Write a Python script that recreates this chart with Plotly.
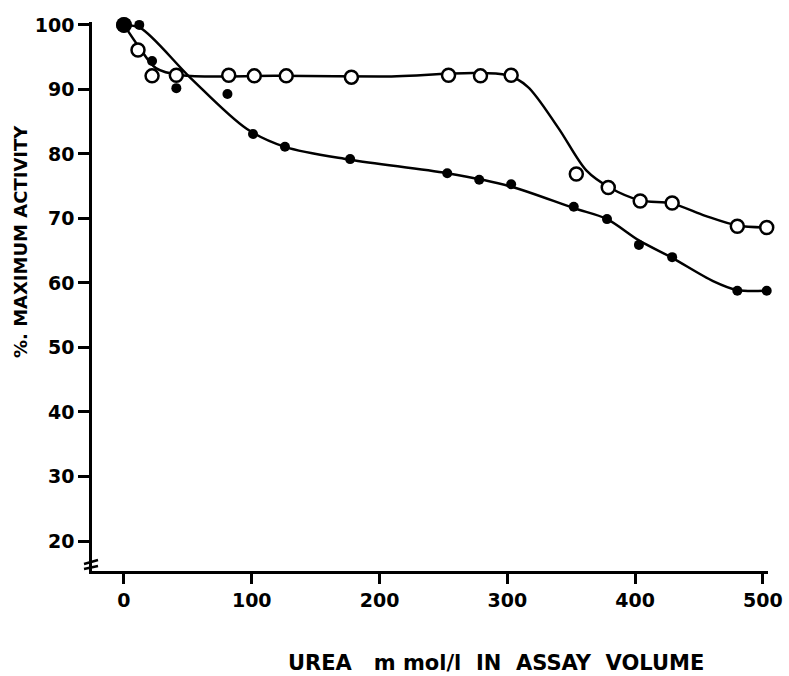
import plotly.graph_objects as go

# Measured points (urea mmol/l, % maximum activity)
filled_x = [0, 12, 22, 41, 81, 101, 126, 177, 253, 278, 303, 352, 378, 403, 429, 480, 503]
filled_y = [100, 100, 94.4, 90.2, 89.3, 83.1, 81.1, 79.2, 77.0, 76.0, 75.3, 71.8, 69.9, 65.9, 64.0, 58.8, 58.8]

open_x = [0, 11, 22, 41, 82, 102, 127, 178, 254, 279, 303, 354, 379, 404, 429, 480, 503]
open_y = [100, 96.1, 92.1, 92.2, 92.2, 92.1, 92.1, 91.9, 92.2, 92.1, 92.2, 76.9, 74.8, 72.7, 72.4, 68.8, 68.6]

# Hand-drawn fitted curves
filled_curve_x = [0, 13, 52, 96, 126, 177, 253, 302, 352, 378, 403, 429, 461, 480, 503]
filled_curve_y = [100, 99.5, 91.8, 83.9, 81.1, 79.1, 77.0, 75.0, 71.6, 69.9, 66.6, 63.9, 60.3, 58.9, 58.8]

open_curve_x = [0, 12, 25, 45, 120, 200, 300, 316, 340, 362, 380, 404, 429, 455, 480, 503]
open_curve_y = [100, 96.5, 93.3, 92.2, 92.1, 92.0, 92.2, 90.4, 84.0, 77.4, 74.8, 72.8, 72.3, 70.4, 68.9, 68.6]

x_ticks = [0, 100, 200, 300, 400, 500]
y_ticks = [20, 30, 40, 50, 60, 70, 80, 90, 100]

NB = "\u00a0"
x_title = ("UREA" + NB * 3 + "m" + NB + "mol/l" + NB * 2 + "IN" + NB * 2 +
           "ASSAY" + NB * 2 + "VOLUME")
y_title = "%. MAXIMUM ACTIVITY"

FONT = "DejaVu Sans"
INK = "black"

fig = go.Figure()

fig.add_trace(go.Scatter(x=filled_curve_x, y=filled_curve_y, mode="lines",
                         line=dict(color=INK, width=2.5, shape="spline", smoothing=0.9),
                         hoverinfo="skip", showlegend=False))
fig.add_trace(go.Scatter(x=open_curve_x, y=open_curve_y, mode="lines",
                         line=dict(color=INK, width=2.5, shape="spline", smoothing=0.9),
                         hoverinfo="skip", showlegend=False))

fig.add_trace(go.Scatter(x=open_x, y=open_y, mode="markers", cliponaxis=False,
                         marker=dict(symbol="circle", size=13, color="white",
                                     line=dict(color=INK, width=2.5)),
                         showlegend=False))
fig.add_trace(go.Scatter(x=filled_x, y=filled_y, mode="markers", cliponaxis=False,
                         marker=dict(symbol="circle", size=10, color=INK,
                                     line=dict(width=0)),
                         showlegend=False))
fig.add_trace(go.Scatter(x=filled_x[:1], y=filled_y[:1], mode="markers", cliponaxis=False,
                         marker=dict(symbol="circle", size=16, color=INK,
                                     line=dict(width=0)),
                         showlegend=False))

axis_common = dict(showline=True, linecolor=INK, linewidth=2.5, ticks="outside",
                   tickcolor=INK, tickwidth=2.5, showgrid=False, zeroline=False,
                   automargin=False,
                   tickfont=dict(family=FONT, size=19, color=INK, weight="bold"))

fig.update_xaxes(range=[-25, 504], tickvals=x_ticks, ticktext=[str(v) for v in x_ticks],
                 ticklen=10, **axis_common)
fig.update_yaxes(range=[15.35, 100.45], tickvals=y_ticks, ticktext=[str(v) for v in y_ticks],
                 ticklen=11, **axis_common)

# plot area: x from 92 to 768 px, y from 22 to 571 px
W, H = 676.0, 549.0
def px(xp, yp):
    return (xp - 92) / W, (571 - yp) / H

# axis break marks at the foot of the y axis
shapes = []
for (x0, y0, x1, y1) in [(84, 564, 98, 560), (84, 569, 98, 566)]:
    a, b = px(x0, y0)
    c, d = px(x1, y1)
    shapes.append(dict(type="line", xref="paper", yref="paper", x0=a, y0=b, x1=c, y1=d,
                       line=dict(color=INK, width=2.5)))

xt = px(496, 663)
yt = px(20, 242)
fig.update_layout(
    width=789, height=676,
    margin=dict(l=92, r=21, t=22, b=105, autoexpand=False),
    paper_bgcolor="white", plot_bgcolor="white",
    shapes=shapes,
    annotations=[
        dict(text=x_title, xref="paper", yref="paper", x=xt[0], y=xt[1],
             xanchor="center", yanchor="middle", showarrow=False,
             font=dict(family=FONT, size=21, color=INK, weight="bold")),
        dict(text=y_title, xref="paper", yref="paper", x=yt[0], y=yt[1],
             xanchor="center", yanchor="middle", showarrow=False, textangle=-90,
             font=dict(family=FONT, size=18, color=INK, weight="bold")),
    ],
)

fig.write_html("out.html", config={"displayModeBar": False},
               post_script="document.body.style.margin='0';document.body.style.overflow='hidden';")
